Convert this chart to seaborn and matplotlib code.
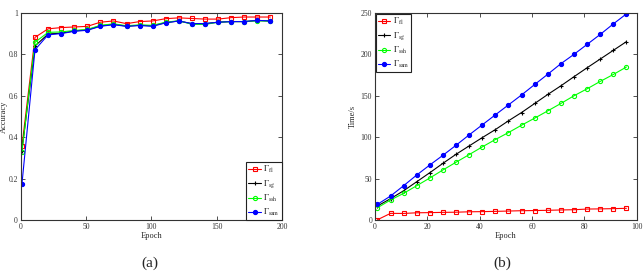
import numpy as np
import seaborn as sns
import matplotlib.pyplot as plt

# 左图：准确率
epoch_a = list(range(1, 192, 10))
acc_fl = [0.357, 0.882, 0.923, 0.929, 0.932, 0.935, 0.955, 0.961, 0.948, 0.958,
          0.961, 0.972, 0.976, 0.973, 0.970, 0.970, 0.977, 0.980, 0.980, 0.980]
acc_sg = [0.335, 0.840, 0.898, 0.902, 0.913, 0.918, 0.937, 0.945, 0.936, 0.940,
          0.938, 0.953, 0.961, 0.948, 0.948, 0.955, 0.958, 0.958, 0.963, 0.961]
acc_ssh = [0.330, 0.858, 0.906, 0.908, 0.915, 0.920, 0.940, 0.947, 0.938, 0.942,
           0.940, 0.955, 0.962, 0.945, 0.944, 0.955, 0.958, 0.958, 0.962, 0.960]
acc_sam = [0.173, 0.822, 0.894, 0.900, 0.911, 0.916, 0.935, 0.943, 0.935, 0.939,
           0.935, 0.952, 0.961, 0.948, 0.948, 0.955, 0.958, 0.958, 0.964, 0.961]

# 右图：时间
epoch_b = list(range(1, 97, 5))
time_fl = [0.4, 8.1, 8.0, 8.8, 9.0, 9.3, 9.5, 10.0, 10.2, 10.5,
           10.9, 11.3, 11.5, 11.8, 12.2, 12.5, 13.3, 13.5, 13.8, 14.2]
time_sg = [17.0, 25.8, 35.4, 46.3, 57.2, 68.5, 79.4, 89.5, 99.5, 109.2,
           119.8, 129.8, 140.7, 151.6, 162.0, 173.0, 183.8, 194.3, 204.8, 215.3]
time_ssh = [14.9, 24.2, 32.3, 41.5, 50.8, 60.5, 69.8, 79.0, 88.3, 97.2,
            105.6, 114.5, 123.0, 131.8, 140.7, 150.0, 158.4, 167.3, 175.7, 184.7]
time_sam = [19.0, 29.0, 41.5, 54.4, 66.5, 78.2, 90.3, 102.8, 114.9, 127.0,
            139.0, 151.0, 163.6, 176.0, 188.7, 200.0, 212.0, 224.0, 236.7, 248.8]

labels = [r"$\Gamma_{\mathrm{fl}}$", r"$\Gamma_{\mathrm{sg}}$",
          r"$\Gamma_{\mathrm{ssh}}$", r"$\Gamma_{\mathrm{sam}}$"]
colors = ["#ff0000", "#000000", "#00ff00", "#0000ff"]
markers = ["s", "+", "o", "o"]
filled = [False, False, False, True]

sns.set_style("ticks")
plt.rcParams['font.family'] = ['Liberation Serif', 'DejaVu Serif']
plt.rcParams['mathtext.fontset'] = 'stix'
plt.rcParams['xtick.direction'] = 'in'
plt.rcParams['ytick.direction'] = 'in'

fig = plt.figure(figsize=(6.44, 2.80), dpi=100)
ax1 = fig.add_axes([0.032, 0.214, 0.406, 0.740])
ax2 = fig.add_axes([0.582, 0.214, 0.407, 0.740])


def draw(ax, x, series):
    for ys, lab, c, m, f in zip(series, labels, colors, markers, filled):
        sns.lineplot(x=x, y=ys, ax=ax, color=c, marker=m, label=lab,
                     markersize=3.0, linewidth=0.8, markeredgewidth=0.8,
                     markerfacecolor=c if f else "none", markeredgecolor=c)
    for s in ax.spines.values():
        s.set_linewidth(0.8)
        s.set_color("#333333")
    ax.tick_params(labelsize=5.5, colors="#333333", top=True, right=True,
                   length=3, width=0.6, pad=2)


def style_legend(leg):
    leg.get_frame().set_edgecolor("#222222")
    leg.get_frame().set_linewidth(0.8)


draw(ax1, epoch_a, [acc_fl, acc_sg, acc_ssh, acc_sam])
ax1.set_xlim(0, 200)
ax1.set_ylim(0, 1)
ax1.set_xticks([0, 50, 100, 150, 200])
ax1.set_yticks([0, 0.2, 0.4, 0.6, 0.8, 1])
ax1.set_yticklabels(["0", "0.2", "0.4", "0.6", "0.8", "1"])
ax1.set_xlabel("Epoch", fontsize=6, labelpad=1)
ax1.set_ylabel("Accuracy", fontsize=6)
ax1.yaxis.set_label_coords(-0.048, 0.5)
leg1 = ax1.legend(loc="lower right", fontsize=6, handlelength=1.5,
                  borderpad=0.25, labelspacing=0.35, handletextpad=0.3,
                  fancybox=False, framealpha=1, borderaxespad=0)
style_legend(leg1)

draw(ax2, epoch_b, [time_fl, time_sg, time_ssh, time_sam])
ax2.set_xlim(0, 100)
ax2.set_ylim(0, 250)
ax2.set_xticks([0, 20, 40, 60, 80, 100])
ax2.set_yticks([0, 50, 100, 150, 200, 250])
ax2.set_xlabel("Epoch", fontsize=6, labelpad=1)
ax2.set_ylabel("Time/s", fontsize=6)
ax2.yaxis.set_label_coords(-0.07, 0.5)
leg2 = ax2.legend(loc="upper left", fontsize=6, handlelength=1.5,
                  borderpad=0.25, labelspacing=0.35, handletextpad=0.3,
                  fancybox=False, framealpha=1, borderaxespad=0.1)
style_legend(leg2)

fig.text(150 / 644, 1 - 263 / 280, "(a)", ha="center", va="center", fontsize=11)
fig.text(502 / 644, 1 - 263 / 280, "(b)", ha="center", va="center", fontsize=11)

plt.savefig("out.png", dpi=100)
